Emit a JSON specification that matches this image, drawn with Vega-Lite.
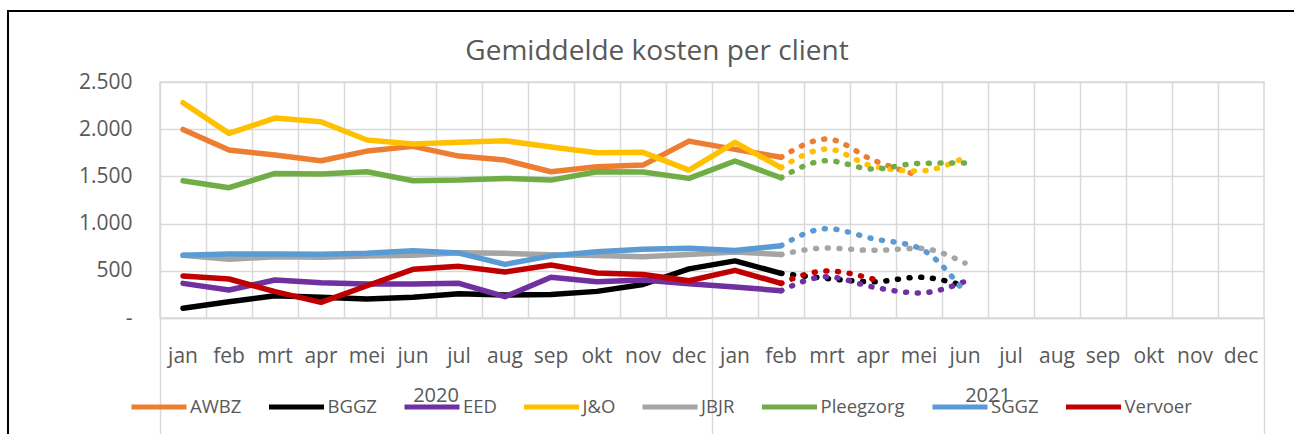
{
"$schema": "https://vega.github.io/schema/vega-lite/v6.json",
"autosize": "none",
"width": 1104,
"height": 236,
"padding": {"left": 160, "top": 82, "right": 30, "bottom": 116},
"background": "white",
"config": {"font": "Open Sans", "view": {"stroke": "#d9d9d9", "strokeWidth": 1.5}, "legend": {"strokeWidth": 2}},
"title": {"text": "Gemiddelde kosten per client", "fontSize": 28, "font": "Open Sans", "fontWeight": "normal", "color": "#595959", "offset": 5, "dx": -55, "dy": 61, "anchor": "middle"},
"datasets": {
"solid": [
{"k":"2020-jan","s":"AWBZ","v":1998},{"k":"2020-feb","s":"AWBZ","v":1779},{"k":"2020-mrt","s":"AWBZ","v":1726},{"k":"2020-apr","s":"AWBZ","v":1666},{"k":"2020-mei","s":"AWBZ","v":1768},{"k":"2020-jun","s":"AWBZ","v":1818},{"k":"2020-jul","s":"AWBZ","v":1715},{"k":"2020-aug","s":"AWBZ","v":1673},{"k":"2020-sep","s":"AWBZ","v":1549},{"k":"2020-okt","s":"AWBZ","v":1602},{"k":"2020-nov","s":"AWBZ","v":1620},{"k":"2020-dec","s":"AWBZ","v":1874},{"k":"2021-jan","s":"AWBZ","v":1786},{"k":"2021-feb","s":"AWBZ","v":1702},
{"k":"2020-jan","s":"BGGZ","v":103},{"k":"2020-feb","s":"BGGZ","v":173},{"k":"2020-mrt","s":"BGGZ","v":236},{"k":"2020-apr","s":"BGGZ","v":219},{"k":"2020-mei","s":"BGGZ","v":201},{"k":"2020-jun","s":"BGGZ","v":219},{"k":"2020-jul","s":"BGGZ","v":258},{"k":"2020-aug","s":"BGGZ","v":244},{"k":"2020-sep","s":"BGGZ","v":248},{"k":"2020-okt","s":"BGGZ","v":282},{"k":"2020-nov","s":"BGGZ","v":355},{"k":"2020-dec","s":"BGGZ","v":520},{"k":"2021-jan","s":"BGGZ","v":605},{"k":"2021-feb","s":"BGGZ","v":473},
{"k":"2020-jan","s":"EED","v":367},{"k":"2020-feb","s":"EED","v":297},{"k":"2020-mrt","s":"EED","v":402},{"k":"2020-apr","s":"EED","v":374},{"k":"2020-mei","s":"EED","v":360},{"k":"2020-jun","s":"EED","v":360},{"k":"2020-jul","s":"EED","v":367},{"k":"2020-aug","s":"EED","v":226},{"k":"2020-sep","s":"EED","v":431},{"k":"2020-okt","s":"EED","v":385},{"k":"2020-nov","s":"EED","v":402},{"k":"2020-dec","s":"EED","v":362},{"k":"2021-jan","s":"EED","v":328},{"k":"2021-feb","s":"EED","v":289},
{"k":"2020-jan","s":"J&O","v":2280},{"k":"2020-feb","s":"J&O","v":1956},{"k":"2020-mrt","s":"J&O","v":2118},{"k":"2020-apr","s":"J&O","v":2079},{"k":"2020-mei","s":"J&O","v":1885},{"k":"2020-jun","s":"J&O","v":1843},{"k":"2020-jul","s":"J&O","v":1861},{"k":"2020-aug","s":"J&O","v":1878},{"k":"2020-sep","s":"J&O","v":1811},{"k":"2020-okt","s":"J&O","v":1751},{"k":"2020-nov","s":"J&O","v":1755},{"k":"2020-dec","s":"J&O","v":1567},{"k":"2021-jan","s":"J&O","v":1861},{"k":"2021-feb","s":"J&O","v":1592},
{"k":"2020-jan","s":"JBJR","v":664},{"k":"2020-feb","s":"JBJR","v":622},{"k":"2020-mrt","s":"JBJR","v":649},{"k":"2020-apr","s":"JBJR","v":643},{"k":"2020-mei","s":"JBJR","v":656},{"k":"2020-jun","s":"JBJR","v":664},{"k":"2020-jul","s":"JBJR","v":690},{"k":"2020-aug","s":"JBJR","v":685},{"k":"2020-sep","s":"JBJR","v":670},{"k":"2020-okt","s":"JBJR","v":662},{"k":"2020-nov","s":"JBJR","v":649},{"k":"2020-dec","s":"JBJR","v":672},{"k":"2021-jan","s":"JBJR","v":700},{"k":"2021-feb","s":"JBJR","v":672},
{"k":"2020-jan","s":"Pleegzorg","v":1454},{"k":"2020-feb","s":"Pleegzorg","v":1380},{"k":"2020-mrt","s":"Pleegzorg","v":1532},{"k":"2020-apr","s":"Pleegzorg","v":1525},{"k":"2020-mei","s":"Pleegzorg","v":1549},{"k":"2020-jun","s":"Pleegzorg","v":1454},{"k":"2020-jul","s":"Pleegzorg","v":1461},{"k":"2020-aug","s":"Pleegzorg","v":1479},{"k":"2020-sep","s":"Pleegzorg","v":1461},{"k":"2020-okt","s":"Pleegzorg","v":1549},{"k":"2020-nov","s":"Pleegzorg","v":1546},{"k":"2020-dec","s":"Pleegzorg","v":1479},{"k":"2021-jan","s":"Pleegzorg","v":1663},{"k":"2021-feb","s":"Pleegzorg","v":1486},
{"k":"2020-jan","s":"SGGZ","v":664},{"k":"2020-feb","s":"SGGZ","v":678},{"k":"2020-mrt","s":"SGGZ","v":678},{"k":"2020-apr","s":"SGGZ","v":675},{"k":"2020-mei","s":"SGGZ","v":685},{"k":"2020-jun","s":"SGGZ","v":713},{"k":"2020-jul","s":"SGGZ","v":688},{"k":"2020-aug","s":"SGGZ","v":568},{"k":"2020-sep","s":"SGGZ","v":658},{"k":"2020-okt","s":"SGGZ","v":703},{"k":"2020-nov","s":"SGGZ","v":729},{"k":"2020-dec","s":"SGGZ","v":738},{"k":"2021-jan","s":"SGGZ","v":716},{"k":"2021-feb","s":"SGGZ","v":766},
{"k":"2020-jan","s":"Vervoer","v":445},{"k":"2020-feb","s":"Vervoer","v":413},{"k":"2020-mrt","s":"Vervoer","v":279},{"k":"2020-apr","s":"Vervoer","v":166},{"k":"2020-mei","s":"Vervoer","v":342},{"k":"2020-jun","s":"Vervoer","v":516},{"k":"2020-jul","s":"Vervoer","v":547},{"k":"2020-aug","s":"Vervoer","v":487},{"k":"2020-sep","s":"Vervoer","v":561},{"k":"2020-okt","s":"Vervoer","v":477},{"k":"2020-nov","s":"Vervoer","v":460},{"k":"2020-dec","s":"Vervoer","v":395},{"k":"2021-jan","s":"Vervoer","v":505},{"k":"2021-feb","s":"Vervoer","v":367}
],
"dot": [
{"k":"2021-feb","s":"AWBZ","v":1702},{"k":"2021-mrt","s":"AWBZ","v":1896},{"k":"2021-apr","s":"AWBZ","v":1673},{"k":"2021-mei","s":"AWBZ","v":1509},
{"k":"2021-feb","s":"BGGZ","v":473},{"k":"2021-mrt","s":"BGGZ","v":418},{"k":"2021-apr","s":"BGGZ","v":384},{"k":"2021-mei","s":"BGGZ","v":431},{"k":"2021-jun","s":"BGGZ","v":339},
{"k":"2021-feb","s":"EED","v":289},{"k":"2021-mrt","s":"EED","v":437},{"k":"2021-apr","s":"EED","v":328},{"k":"2021-mei","s":"EED","v":265},{"k":"2021-jun","s":"EED","v":387},
{"k":"2021-feb","s":"J&O","v":1592},{"k":"2021-mrt","s":"J&O","v":1790},{"k":"2021-apr","s":"J&O","v":1607},{"k":"2021-mei","s":"J&O","v":1557},{"k":"2021-jun","s":"J&O","v":1700},
{"k":"2021-feb","s":"JBJR","v":672},{"k":"2021-mrt","s":"JBJR","v":741},{"k":"2021-apr","s":"JBJR","v":717},{"k":"2021-mei","s":"JBJR","v":738},{"k":"2021-jun","s":"JBJR","v":582},
{"k":"2021-feb","s":"Pleegzorg","v":1486},{"k":"2021-mrt","s":"Pleegzorg","v":1666},{"k":"2021-apr","s":"Pleegzorg","v":1578},{"k":"2021-mei","s":"Pleegzorg","v":1638},{"k":"2021-jun","s":"Pleegzorg","v":1643},
{"k":"2021-feb","s":"SGGZ","v":766},{"k":"2021-mrt","s":"SGGZ","v":946},{"k":"2021-apr","s":"SGGZ","v":840},{"k":"2021-mei","s":"SGGZ","v":741},{"k":"2021-jun","s":"SGGZ","v":270},
{"k":"2021-feb","s":"Vervoer","v":367},{"k":"2021-mrt","s":"Vervoer","v":498},{"k":"2021-apr","s":"Vervoer","v":413}
]
},
"resolve": {"axis": {"x": "independent"}},
"layer": [
{
"data": {"name": "solid"},
"mark": {"type": "line", "strokeWidth": 5.5, "strokeCap": "round", "strokeJoin": "round"},
"encoding": {
"x": {"field": "k", "type": "ordinal", "sort": null,
"scale": {"type": "band", "paddingInner": 0, "paddingOuter": 0, "domain": ["2020-jan","2020-feb","2020-mrt","2020-apr","2020-mei","2020-jun","2020-jul","2020-aug","2020-sep","2020-okt","2020-nov","2020-dec","2021-jan","2021-feb","2021-mrt","2021-apr","2021-mei","2021-jun","2021-jul","2021-aug","2021-sep","2021-okt","2021-nov","2021-dec"]},
"axis": {"orient": "bottom", "title": null, "labelExpr": "split(datum.value, '-')[1]", "labelAngle": 0, "labelFontSize": 21, "labelColor": "#595959", "labelPadding": 27, "ticks": false, "domain": true, "domainColor": "#d9d9d9", "domainWidth": 1.5, "grid": true, "gridColor": "#d9d9d9", "gridWidth": 1.5, "bandPosition": 0}},
"y": {"field": "v", "type": "quantitative", "scale": {"domain": [0, 2500], "nice": false},
"axis": {"values": [0, 500, 1000, 1500, 2000, 2500], "title": null, "labelExpr": "datum.value == 0 ? '-\u00a0\u00a0' : replace(format(datum.value, ','), ',', '.')", "labelFontSize": 21, "labelColor": "#595959", "labelPadding": 28, "ticks": false, "domain": false, "grid": true, "gridColor": "#d9d9d9", "gridWidth": 1.5}},
"color": {"field": "s", "type": "nominal",
"scale": {"domain": ["AWBZ","BGGZ","EED","J&O","JBJR","Pleegzorg","SGGZ","Vervoer"], "range": ["#ED7D31","#000000","#7030A0","#FFC000","#A5A5A5","#70AD47","#5B9BD5","#C00000"]},
"legend": {"orient": "none", "legendX": -31, "legendY": 295, "direction": "horizontal", "title": null, "symbolType": "stroke", "symbolSize": 3025, "symbolStrokeWidth": 5, "labelFontSize": 18.5, "labelColor": "#595959", "labelOffset": 1, "columnPadding": 16.5}}
}
},
{
"data": {"name": "dot"},
"mark": {"type": "line", "interpolate": "monotone", "strokeWidth": 5.5, "strokeCap": "round", "strokeDash": [1, 10.7]},
"encoding": {
"x": {"field": "k", "type": "ordinal", "sort": null,
"scale": {"type": "band", "paddingInner": 0, "paddingOuter": 0, "domain": ["2020-jan","2020-feb","2020-mrt","2020-apr","2020-mei","2020-jun","2020-jul","2020-aug","2020-sep","2020-okt","2020-nov","2020-dec","2021-jan","2021-feb","2021-mrt","2021-apr","2021-mei","2021-jun","2021-jul","2021-aug","2021-sep","2021-okt","2021-nov","2021-dec"]},
"axis": {"orient": "bottom", "title": null, "values": ["2020-jan","2021-jan"], "bandPosition": 0, "labelOffset": 253, "labelExpr": "split(datum.value, '-')[0]", "labelAngle": 0, "labelFontSize": 20, "labelColor": "#595959", "labelPadding": -49, "ticks": true, "tickSize": 116, "tickColor": "#d9d9d9", "tickWidth": 1.5, "domain": false, "grid": false}},
"y": {"field": "v", "type": "quantitative", "scale": {"domain": [0, 2500], "nice": false},
"axis": {"values": [0, 500, 1000, 1500, 2000, 2500], "title": null, "labelExpr": "datum.value == 0 ? '-\u00a0\u00a0' : replace(format(datum.value, ','), ',', '.')", "labelFontSize": 21, "labelColor": "#595959", "labelPadding": 28, "ticks": false, "domain": false, "grid": true, "gridColor": "#d9d9d9", "gridWidth": 1.5}},
"color": {"field": "s", "type": "nominal", "scale": {"domain": ["AWBZ","BGGZ","EED","J&O","JBJR","Pleegzorg","SGGZ","Vervoer"], "range": ["#ED7D31","#000000","#7030A0","#FFC000","#A5A5A5","#70AD47","#5B9BD5","#C00000"]}, "legend": null}
}
},
{
"data": {"name": "solid"},
"mark": {"type": "rule", "opacity": 0},
"encoding": {
"x": {"field": "k", "type": "ordinal", "sort": null,
"scale": {"type": "band", "paddingInner": 0, "paddingOuter": 0, "domain": ["2020-jan","2020-feb","2020-mrt","2020-apr","2020-mei","2020-jun","2020-jul","2020-aug","2020-sep","2020-okt","2020-nov","2020-dec","2021-jan","2021-feb","2021-mrt","2021-apr","2021-mei","2021-jun","2021-jul","2021-aug","2021-sep","2021-okt","2021-nov","2021-dec"]},
"axis": {"orient": "bottom", "title": null, "values": ["2021-dec"], "bandPosition": 1, "labels": false, "ticks": true, "tickSize": 116, "tickColor": "#d9d9d9", "tickWidth": 1.5, "domain": false, "grid": false}},
"strokeDash": {"datum": "kader", "type": "nominal", "legend": {"orient": "none", "legendX": -152, "legendY": -71, "padding": 800, "strokeColor": "#000000", "title": null, "labelExpr": "''", "symbolOpacity": 0}}
}
}
]
}
